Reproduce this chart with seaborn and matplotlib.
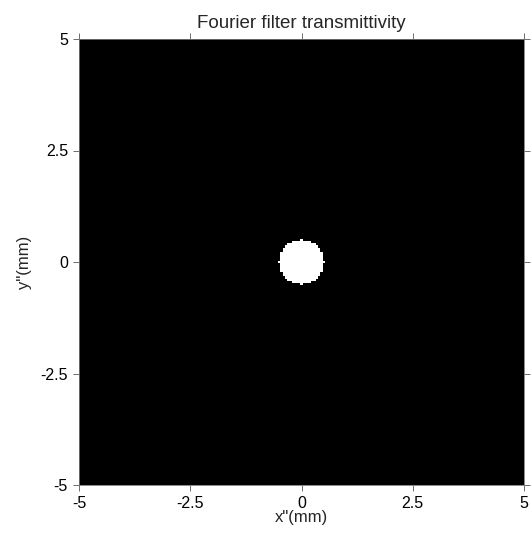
import numpy as np
import matplotlib
matplotlib.use("Agg")
import matplotlib.pyplot as plt
import seaborn as sns

# grid of the Fourier plane (mm) and pass-hole radius
x_mm = np.linspace(-5, 5, 201)
y_mm = np.linspace(-5, 5, 201)
hole_radius = 0.5
tick_vals = [-5, -2.5, 0, 2.5, 5]
tick_labels = ["-5", "-2.5", "0", "2.5", "5"]

sns.set_style("ticks")
plt.rcParams['font.family'] = ['Liberation Sans', 'DejaVu Sans']

xx, yy = np.meshgrid(x_mm, y_mm)
transmit = (xx**2 + yy**2 <= hole_radius**2 + 1e-9).astype(float)

fig = plt.figure(figsize=(5.31, 5.34), dpi=100)
ax = fig.add_axes([79 / 531, 1 - 485 / 534, 445 / 531, 446 / 534])
ax.imshow(transmit, cmap="gray", origin="lower", extent=[-5, 5, -5, 5],
          interpolation="nearest", aspect="auto", vmin=0, vmax=1)

ax.set_xticks(tick_vals)
ax.set_xticklabels(tick_labels)
ax.set_yticks(tick_vals)
ax.set_yticklabels(tick_labels)
ax.tick_params(direction="out", length=4, width=0.6, labelsize=11.5,
               top=True, right=True, colors="#555555", labelcolor="black", pad=4)
for s in ax.spines.values():
    s.set_linewidth(0.6)
    s.set_color("#777777")

ax.set_title("Fourier filter transmittivity", fontsize=13.5, pad=8)
ax.set_xlabel('x"(mm)', fontsize=12, labelpad=-1)
ax.set_ylabel('y"(mm)', fontsize=12, labelpad=6)

plt.savefig("out.png", dpi=100)
